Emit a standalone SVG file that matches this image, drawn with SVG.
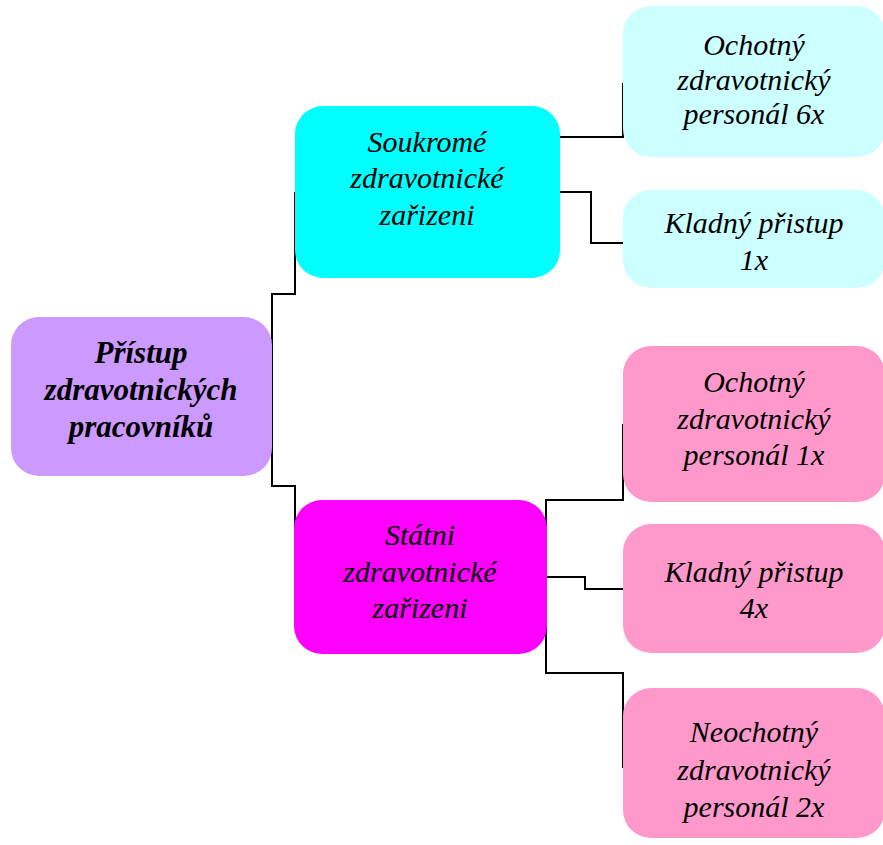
<svg xmlns="http://www.w3.org/2000/svg" width="883" height="845" viewBox="0 0 883 845">
<style>
.c{fill:none;stroke:#000;stroke-width:2}
</style>
<rect width="883" height="845" fill="#fff"/>
<g id="connectors" class="c">
<path d="M295,192 V294 H272 V486 H295 V577"/>
<path d="M623,83 V137 H559 V192 H591 V243 H623"/>
<path d="M623,424 V500 H546 V673 H623 V768"/>
<path d="M546,577 H585 V589 H623"/>
</g>
<g font-family="Liberation Serif, Times New Roman, DejaVu Serif, serif" font-style="italic" font-size="30" text-anchor="middle" fill="#000">
<g id="root">
<rect x="11" y="317" width="261" height="159" rx="28" fill="#CC99FF"/>
<text x="141" y="363" font-weight="bold" font-size="31">Přístup</text>
<text x="141" y="400" font-weight="bold" font-size="31">zdravotnických</text>
<text x="141" y="437" font-weight="bold" font-size="31">pracovníků</text>
</g>
<g id="soukrome">
<rect x="295" y="106" width="265" height="172" rx="28" fill="#00FFFF"/>
<text x="427" y="152">Soukromé</text>
<text x="427" y="188">zdravotnické</text>
<text x="427" y="225">zařizeni</text>
</g>
<g id="statni">
<rect x="294" y="500" width="253" height="154" rx="28" fill="#FF00FF"/>
<text x="420" y="545">Státni</text>
<text x="420" y="582">zdravotnické</text>
<text x="420" y="618">zařizeni</text>
</g>
<g id="s1">
<rect x="623" y="6" width="262" height="151" rx="28" fill="#CCFFFF"/>
<text x="754" y="55">Ochotný</text>
<text x="754" y="90">zdravotnický</text>
<text x="754" y="124">personál 6x</text>
</g>
<g id="s2">
<rect x="623" y="190" width="262" height="98" rx="28" fill="#CCFFFF"/>
<text x="754" y="233">Kladný přistup</text>
<text x="754" y="270">1x</text>
</g>
<g id="p1">
<rect x="623" y="346" width="262" height="156" rx="28" fill="#FF99CC"/>
<text x="754" y="392">Ochotný</text>
<text x="754" y="429">zdravotnický</text>
<text x="754" y="465">personál 1x</text>
</g>
<g id="p2">
<rect x="623" y="524" width="262" height="129" rx="28" fill="#FF99CC"/>
<text x="754" y="582">Kladný přistup</text>
<text x="754" y="618">4x</text>
</g>
<g id="p3">
<rect x="623" y="688" width="262" height="150" rx="28" fill="#FF99CC"/>
<text x="754" y="742">Neochotný</text>
<text x="754" y="780">zdravotnický</text>
<text x="754" y="817">personál 2x</text>
</g>
</g>
</svg>
